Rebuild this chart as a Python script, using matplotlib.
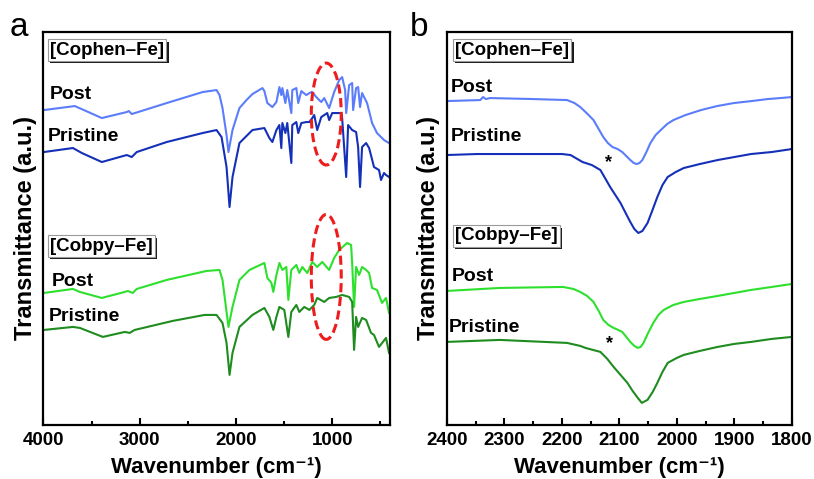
import numpy as np
import matplotlib.pyplot as plt
import matplotlib.patheffects as pe
from matplotlib.patches import Ellipse

plt.rcParams['font.family'] = ['Liberation Sans', 'DejaVu Sans']

# ---- panel a: full range spectra (wavenumber, transmittance a.u., offset traces)
cophen_post_wn = [3995, 3674, 3394, 3135, 3114, 3083, 2720, 2347, 2202, 2171, 2140, 2098, 2078, 2036,
                  1964, 1891, 1829, 1725, 1705, 1674, 1622, 1580, 1549, 1529, 1518, 1487, 1467, 1425,
                  1415, 1373, 1353, 1321, 1270, 1218, 1207, 1166, 1114, 1083, 1032, 980, 928, 897,
                  866, 855, 824, 793, 783, 752, 731, 711, 690, 638, 586, 535, 462, 410]
cophen_post_t = [315, 319, 307, 313, 314, 311, 322, 333, 335, 330, 317, 290, 273, 295,
                 317, 325, 331, 337, 334, 322, 318, 323, 338, 330, 337, 322, 335, 312,
                 335, 337, 322, 334, 330, 333, 333, 328, 323, 327, 317, 333, 345, 348,
                 335, 312, 340, 342, 315, 337, 338, 318, 332, 322, 302, 292, 285, 282]

cophen_pris_wn = [3995, 3694, 3601, 3394, 3135, 3083, 3031, 2720, 2347, 2202, 2150, 2098, 2067, 2036,
                  1964, 1829, 1705, 1653, 1622, 1580, 1549, 1529, 1518, 1487, 1467, 1425, 1415, 1373,
                  1353, 1321, 1270, 1238, 1207, 1187, 1156, 1114, 1052, 1032, 1000, 907, 897, 855,
                  835, 793, 752, 731, 711, 690, 648, 617, 566, 514, 493, 462, 441, 410]
cophen_pris_t = [273, 277, 272, 263, 270, 268, 273, 283, 292, 295, 288, 258, 218, 248,
                 282, 295, 297, 287, 283, 295, 300, 277, 302, 292, 302, 262, 300, 303,
                 292, 302, 303, 303, 307, 310, 295, 308, 312, 305, 312, 312, 307, 248,
                 300, 295, 293, 278, 238, 278, 282, 277, 258, 255, 245, 252, 250, 248]

cobpy_post_wn = [3995, 3694, 3622, 3394, 3155, 3124, 3073, 3031, 2720, 2306, 2171, 2140, 2078, 2036,
                 1964, 1860, 1705, 1674, 1632, 1612, 1580, 1549, 1518, 1477, 1456, 1425, 1373, 1342,
                 1311, 1259, 1207, 1156, 1104, 1032, 980, 928, 845, 804, 793, 773, 752, 721,
                 690, 648, 617, 586, 535, 483, 441, 410]
cobpy_post_t = [132, 136, 133, 127, 133, 134, 132, 136, 145, 154, 155, 145, 98, 118,
                145, 155, 162, 147, 142, 133, 150, 162, 155, 158, 125, 155, 160, 152,
                158, 152, 163, 158, 163, 155, 167, 175, 182, 180, 162, 118, 158, 150,
                158, 155, 152, 137, 135, 122, 127, 112]

cobpy_pris_wn = [3995, 3694, 3622, 3383, 3155, 3104, 3052, 2658, 2326, 2202, 2140, 2098, 2067, 2036,
                 1964, 1829, 1705, 1653, 1612, 1580, 1549, 1498, 1456, 1425, 1373, 1342, 1290, 1238,
                 1187, 1156, 1083, 1032, 959, 897, 824, 793, 773, 752, 731, 690, 648, 597,
                 566, 514, 441, 410]
cobpy_pris_t = [95, 98, 97, 88, 93, 92, 95, 104, 110, 110, 102, 82, 50, 72,
                98, 110, 117, 108, 95, 108, 118, 115, 88, 113, 120, 113, 118, 115,
                120, 127, 123, 127, 128, 130, 128, 123, 75, 108, 98, 107, 105, 92,
                90, 78, 87, 72]

# ---- panel b: 2400-1800 cm-1 zoom
b_cophen_post_wn = [2400, 2342, 2337, 2332, 2325, 2250, 2191, 2178, 2168, 2157, 2145, 2136, 2128,
                    2120, 2112, 2103, 2095, 2088, 2081, 2075, 2070, 2065, 2060, 2053, 2046, 2037,
                    2028, 2017, 2006, 1985, 1958, 1930, 1901, 1870, 1842, 1820, 1800]
b_cophen_post_t = [324, 325, 328, 326, 327, 326, 325, 322, 318, 312, 305, 296, 288,
                   282, 278, 276, 273, 269, 265, 262, 261, 262, 265, 273, 282, 290,
                   295, 301, 305, 310, 315, 319, 322, 324, 326, 327, 328]

b_cophen_pris_wn = [2400, 2348, 2250, 2200, 2185, 2164, 2148, 2133, 2124, 2116, 2107, 2098, 2090,
                    2081, 2074, 2067, 2060, 2051, 2043, 2034, 2025, 2016, 2002, 1988, 1960, 1929,
                    1900, 1871, 1835, 1800]
b_cophen_pris_t = [270, 271, 271, 271, 270, 263, 260, 255, 246, 238, 230, 222, 213,
                   203, 196, 192, 194, 202, 214, 228, 240, 248, 253, 257, 261, 265,
                   268, 271, 273, 276]

b_cobpy_post_wn = [2400, 2308, 2198, 2180, 2168, 2156, 2145, 2136, 2128, 2119, 2110, 2102, 2095,
                   2088, 2081, 2074, 2068, 2063, 2058, 2050, 2041, 2032, 2023, 2006, 1988, 1960,
                   1929, 1900, 1871, 1835, 1800]
b_cobpy_post_t = [134, 137, 138, 136, 133, 129, 123, 114, 105, 100, 97, 95, 93,
                  88, 83, 79, 77, 78, 82, 92, 102, 110, 115, 120, 123, 126,
                  129, 132, 135, 138, 141]

b_cobpy_pris_wn = [2400, 2308, 2191, 2168, 2159, 2146, 2133, 2121, 2110, 2098, 2086, 2077, 2068,
                   2061, 2051, 2042, 2034, 2025, 2016, 2000, 1988, 1960, 1929, 1900, 1871, 1835,
                   1800]
b_cobpy_pris_t = [83, 85, 82, 79, 77, 75, 73, 66, 58, 50, 42, 34, 27,
                  22, 25, 33, 42, 53, 62, 67, 70, 74, 78, 81, 83, 86,
                  88]

c_post_blue = '#5b7dfa'
c_pris_blue = '#1530b8'
c_post_green = '#2ee02e'
c_pris_green = '#1f8c1f'


def boxed(ax, x, y, s):
    t = ax.text(x, y, s, transform=ax.transAxes, fontsize=13.5, fontweight='bold', va='center',
                ha='left', bbox=dict(boxstyle='square,pad=0.12', fc='white', ec='#9a9a9a', lw=0.8))
    t.get_bbox_patch().set_path_effects([pe.withSimplePatchShadow(offset=(1.8, -1.8),
                                                                  shadow_rgbFace='k', alpha=0.9)])


def label(ax, x, y, s):
    ax.text(x, y, s, transform=ax.transAxes, fontsize=14, fontweight='bold', va='center', ha='left')


def style(ax, xlim, major, minor):
    ax.set_xlim(*xlim)
    ax.set_ylim(0, 393)
    ax.set_yticks([])
    ax.set_xticks(major)
    ax.set_xticks(minor, minor=True)
    ax.tick_params(axis='x', which='major', direction='in', length=5, width=1.5,
                   labelsize=13.5, pad=5)
    ax.tick_params(axis='x', which='minor', direction='in', length=3, width=1.5)
    for lbl in ax.get_xticklabels():
        lbl.set_fontweight('bold')
    for sp in ax.spines.values():
        sp.set_linewidth(1.6)
    ax.set_xlabel('Wavenumber (cm⁻¹)', fontsize=16, fontweight='bold', va='bottom')
    ax.xaxis.set_label_coords(0.5, -0.136)
    ax.set_ylabel('Transmittance (a.u.)', fontsize=17, fontweight='bold', labelpad=5)


fig = plt.figure(figsize=(8.14, 4.79), dpi=100)
ax1 = fig.add_axes([0.0534, 0.113, 0.4257, 0.820])
ax2 = fig.add_axes([0.549, 0.113, 0.4238, 0.820])

lw = 1.5
ax1.plot(cophen_post_wn, cophen_post_t, color=c_post_blue, lw=lw)
ax1.plot(cophen_pris_wn, cophen_pris_t, color=c_pris_blue, lw=lw)
ax1.plot(cobpy_post_wn, cobpy_post_t, color=c_post_green, lw=lw)
ax1.plot(cobpy_pris_wn, cobpy_pris_t, color=c_pris_green, lw=lw)

for yc, h in [(311, 102), (148, 125)]:
    ax1.add_patch(Ellipse((1062, yc), width=311, height=h, fill=False, ec='#ee1c1c',
                          lw=2.2, ls=(0, (3, 1.5)), zorder=5))

style(ax1, (4000, 400), [4000, 3000, 2000, 1000], [3500, 2500, 1500, 500])
boxed(ax1, 0.019, 0.954, '[Cophen–Fe]')
label(ax1, 0.019, 0.840, 'Post')
label(ax1, 0.013, 0.733, 'Pristine')
boxed(ax1, 0.019, 0.455, '[Cobpy–Fe]')
label(ax1, 0.024, 0.366, 'Post')
label(ax1, 0.016, 0.277, 'Pristine')

ax2.plot(b_cophen_post_wn, b_cophen_post_t, color=c_post_blue, lw=lw)
ax2.plot(b_cophen_pris_wn, b_cophen_pris_t, color=c_pris_blue, lw=lw)
ax2.plot(b_cobpy_post_wn, b_cobpy_post_t, color=c_post_green, lw=lw)
ax2.plot(b_cobpy_pris_wn, b_cobpy_pris_t, color=c_pris_green, lw=lw)

style(ax2, (2400, 1800), np.arange(2400, 1799, -100), np.arange(2350, 1800, -100))
boxed(ax2, 0.023, 0.954, '[Cophen–Fe]')
label(ax2, 0.012, 0.860, 'Post')
label(ax2, 0.012, 0.733, 'Pristine')
boxed(ax2, 0.023, 0.481, '[Cobpy–Fe]')
label(ax2, 0.015, 0.377, 'Post')
label(ax2, 0.006, 0.247, 'Pristine')
ax2.text(2119, 262, '*', fontsize=13, fontweight='bold', ha='center', va='center')
ax2.text(2117, 81, '*', fontsize=13, fontweight='bold', ha='center', va='center')

fig.text(0.012, 0.925, 'a', fontsize=24)
fig.text(0.503, 0.925, 'b', fontsize=24)

fig.savefig('out.png', dpi=100)
